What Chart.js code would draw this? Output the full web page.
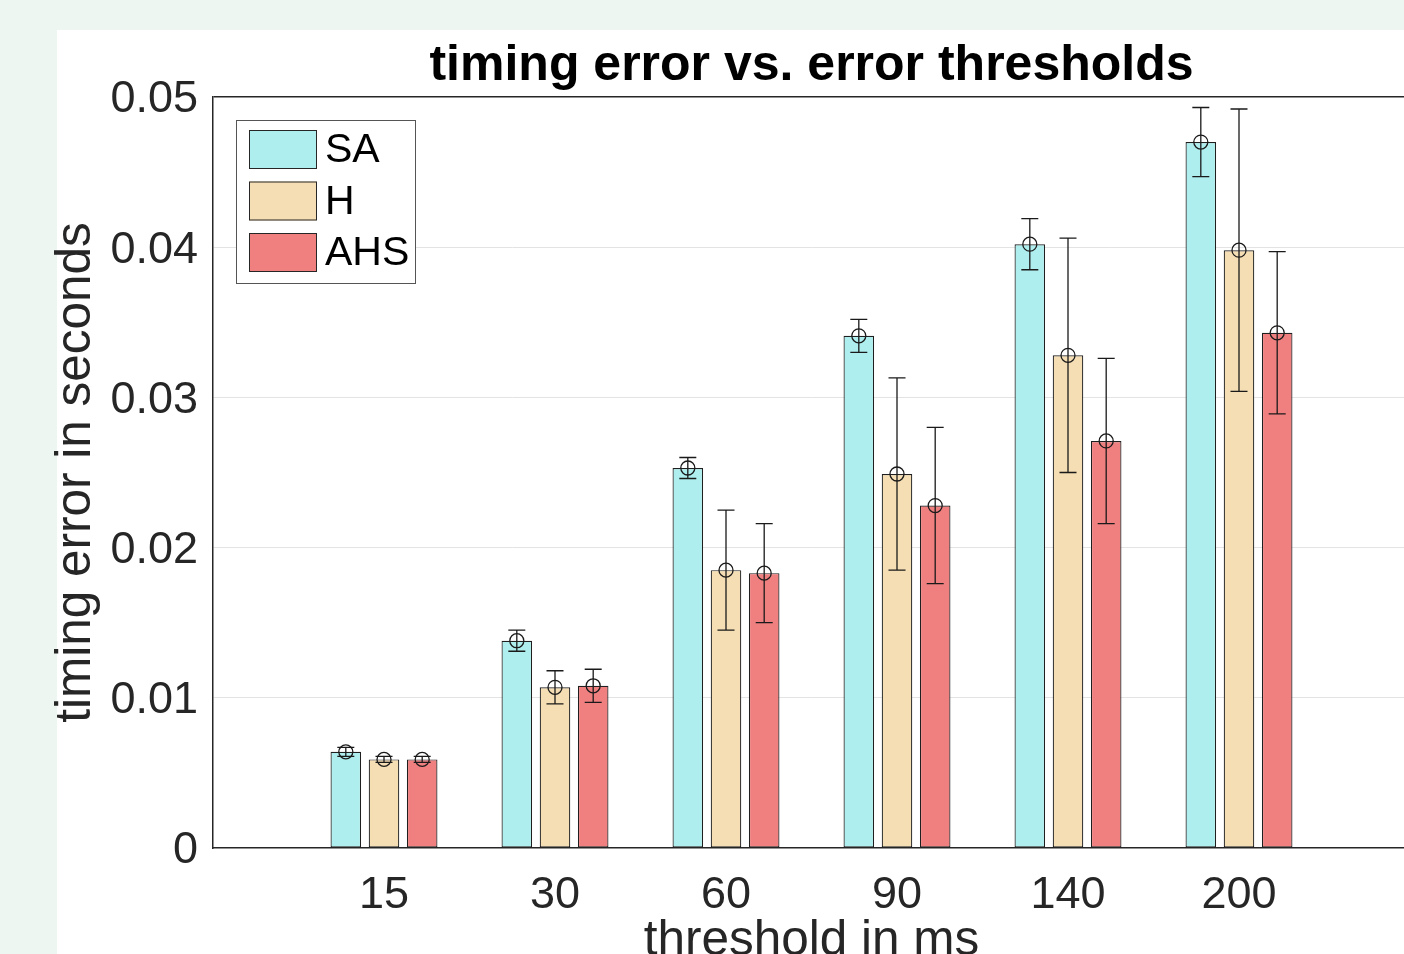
<!DOCTYPE html>
<html>
<head>
<meta charset="utf-8">
<script src="https://cdn.jsdelivr.net/npm/chart.js@4.4.1/dist/chart.umd.min.js"></script>
<style>
  html, body { margin: 0; padding: 0; overflow: hidden; background: #eef6f1; width: 1404px; height: 954px; }
  #panel { position: absolute; left: 57px; top: 30px; width: 1400px; height: 960px; background: #ffffff; }
  #timing-chart { position: absolute; left: 0; top: 0; }
</style>
</head>
<body>
<div id="panel"></div>
<canvas id="timing-chart" width="1460" height="980"></canvas>
<script>
// thresholds (ms) on the x axis
const categories = ['15', '30', '60', '90', '140', '200'];
const yTickValues = [0, 0.01, 0.02, 0.03, 0.04, 0.05];

// mean timing error (s) and error-bar half length per method
const saMean  = [0.0064, 0.0138, 0.0253, 0.0341, 0.0402, 0.0470];
const saErr   = [0.0003, 0.0007, 0.0007, 0.0011, 0.0017, 0.0023];
const hMean   = [0.0059, 0.0107, 0.0185, 0.0249, 0.0328, 0.0398];
const hErr    = [0.0002, 0.0011, 0.0040, 0.0064, 0.0078, 0.0094];
const ahsMean = [0.0059, 0.0108, 0.0183, 0.0228, 0.0271, 0.0343];
const ahsErr  = [0.0002, 0.0011, 0.0033, 0.0052, 0.0055, 0.0054];

const FONT = "'Liberation Sans', Arial, Helvetica, sans-serif";
const AXIS_DARK = '#262626';

function toPoints(values) {
    return values.map((v, i) => ({ x: i + 1, y: v }));
}

const series = [
    { label: 'SA',  mean: saMean,  err: saErr,  color: '#afeeee' },
    { label: 'H',   mean: hMean,   err: hErr,   color: '#f5deb3' },
    { label: 'AHS', mean: ahsMean, err: ahsErr, color: '#f08080' }
];

// error bars with a circle marker at the mean
const errorBars = {
    id: 'errorBars',
    afterDatasetsDraw(chart) {
        const { ctx, scales: { y } } = chart;
        ctx.save();
        ctx.strokeStyle = '#1a1a1a';
        ctx.lineWidth = 1.3;
        chart.data.datasets.forEach((ds, di) => {
            const meta = chart.getDatasetMeta(di);
            meta.data.forEach((bar, i) => {
                const m = ds.data[i].y;
                const e = ds.errors[i];
                const x = bar.x;
                const yTop = y.getPixelForValue(m + e);
                const yBot = y.getPixelForValue(m - e);
                const yMid = y.getPixelForValue(m);
                const cap = 8.5;
                ctx.beginPath();
                ctx.moveTo(x, yTop); ctx.lineTo(x, yBot);
                ctx.moveTo(x - cap, yTop); ctx.lineTo(x + cap, yTop);
                ctx.moveTo(x - cap, yBot); ctx.lineTo(x + cap, yBot);
                ctx.stroke();
                ctx.beginPath();
                ctx.arc(x, yMid, 7, 0, Math.PI * 2);
                ctx.stroke();
            });
        });
        ctx.restore();
    }
};

// MATLAB-style boxed legend in the upper-left corner of the axes
const boxLegend = {
    id: 'boxLegend',
    afterDraw(chart) {
        const { ctx, chartArea } = chart;
        const L = chartArea.left + 23;
        const T = chartArea.top + 23;
        ctx.save();
        ctx.fillStyle = '#ffffff';
        ctx.fillRect(L, T, 180, 164);
        ctx.strokeStyle = '#555555';
        ctx.lineWidth = 1;
        ctx.strokeRect(L + 0.5, T + 0.5, 179, 163);
        ctx.font = '41px ' + FONT;
        ctx.textBaseline = 'middle';
        ctx.textAlign = 'left';
        chart.data.datasets.forEach((ds, i) => {
            const sy = T + 10 + i * 51.5;
            ctx.fillStyle = ds.backgroundColor;
            ctx.fillRect(L + 13, sy, 68, 39);
            ctx.strokeStyle = '#262626';
            ctx.strokeRect(L + 13.5, sy + 0.5, 67, 38);
            ctx.fillStyle = '#000000';
            ctx.fillText(ds.label, L + 89, sy + 21);
        });
        ctx.restore();
    }
};

new Chart(document.getElementById('timing-chart'), {
    type: 'bar',
    data: {
        datasets: series.map(s => ({
            label: s.label,
            data: toPoints(s.mean),
            errors: s.err,
            backgroundColor: s.color,
            borderColor: '#1f1f1f',
            borderWidth: 1.2,
            borderSkipped: false,
            categoryPercentage: 0.67,
            barPercentage: 0.80
        }))
    },
    options: {
        responsive: false,
        animation: false,
        devicePixelRatio: 1,
        layout: { padding: { top: 30, right: 50, left: 0, bottom: 0 } },
        plugins: {
            legend: { display: false },
            tooltip: { enabled: false },
            title: {
                display: true,
                text: 'timing error vs. error thresholds',
                color: '#000000',
                fullSize: false,
                font: { family: FONT, size: 50, weight: 'bold' },
                padding: { top: 6, bottom: 1 }
            }
        },
        scales: {
            x: {
                type: 'linear',
                min: 0,
                max: 7,
                offset: false,
                afterBuildTicks: (scale) => {
                    scale.ticks = categories.map((c, i) => ({ value: i + 1 }));
                },
                afterFit: (scale) => { scale.height = 132; },
                grid: { display: false, drawTicks: false },
                border: { display: true, color: AXIS_DARK, width: 1.5 },
                ticks: {
                    autoSkip: false,
                    maxRotation: 0,
                    padding: 21,
                    color: AXIS_DARK,
                    font: { family: FONT, size: 45 },
                    callback: (v) => categories[v - 1]
                },
                title: {
                    display: true,
                    text: 'threshold in ms',
                    color: AXIS_DARK,
                    font: { family: FONT, size: 49.5 },
                    padding: { top: 0, bottom: 9 }
                }
            },
            y: {
                min: 0,
                max: 0.05,
                afterBuildTicks: (scale) => {
                    scale.ticks = yTickValues.map(v => ({ value: v }));
                },
                afterFit: (scale) => { scale.width = 213; },
                grid: {
                    drawTicks: false,
                    color: (c) => c.tick && c.tick.value >= 0.05 ? AXIS_DARK : (c.tick && c.tick.value === 0 ? 'rgba(0,0,0,0)' : '#e3e3e3'),
                    lineWidth: (c) => c.tick && c.tick.value >= 0.05 ? 1.5 : 1
                },
                border: { display: true, color: AXIS_DARK, width: 1.5 },
                ticks: {
                    padding: 15,
                    labelOffset: 3,
                    color: AXIS_DARK,
                    font: { family: FONT, size: 45 },
                    callback: (v) => v === 0 ? '0' : v.toFixed(2)
                },
                title: {
                    display: true,
                    text: 'timing error in seconds',
                    color: AXIS_DARK,
                    font: { family: FONT, size: 49.5 },
                    padding: { top: 47, bottom: 0 }
                }
            }
        }
    },
    plugins: [errorBars, boxLegend]
});
</script>
</body>
</html>
